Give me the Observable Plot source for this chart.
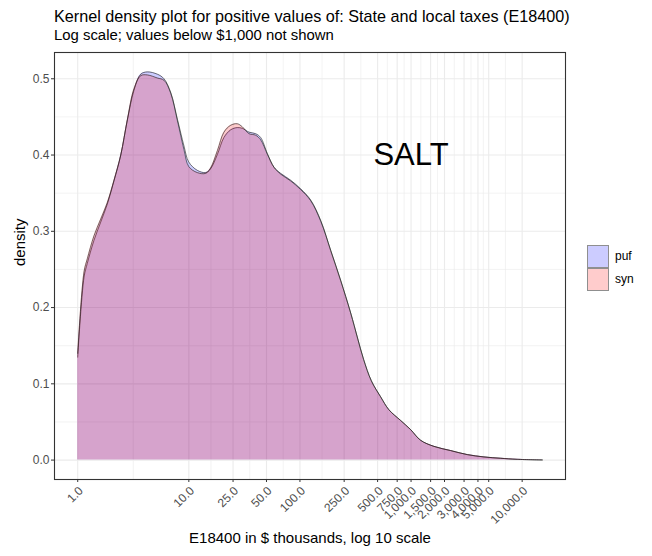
<!DOCTYPE html>
<html>
<head>
<meta charset="utf-8">
<script src="https://cdn.jsdelivr.net/npm/d3@7"></script>
<script src="https://cdn.jsdelivr.net/npm/@observablehq/plot@0.6"></script>
<style>
  body { margin: 0; background: #fff; font-family: "Liberation Sans", Arial, sans-serif; }
  #wrap { position: relative; width: 652px; height: 556px; overflow: hidden; }
  #head { position: relative; height: 44px; }
  #title { position: absolute; left: 54px; top: 7.5px; font-size: 16.2px; line-height: 1; color: #000; white-space: nowrap; }
  #subtitle { position: absolute; left: 54px; top: 27.5px; font-size: 14.9px; line-height: 1; color: #000; white-space: nowrap; }
  #legend { position: absolute; left: 587px; top: 244.5px; font-size: 12px; color: #000; }
  .key { display: flex; align-items: center; height: 23px; }
  .swatch { width: 22px; height: 23px; box-sizing: border-box; border: 1px solid #8f8f8f; margin-right: 6px; }
</style>
</head>
<body>
<div id="wrap">
  <div id="head">
    <div id="title">Kernel density plot for positive values of: State and local taxes (E18400)</div>
    <div id="subtitle">Log scale; values below $1,000 not shown</div>
  </div>
  <div id="chart"></div>
  <div id="legend"></div>
</div>
<script>
// Evaluation points of the kernel density, in $ thousands (log-spaced)
const amounts = [1.00, 1.14, 1.22, 1.40, 1.61, 1.85, 2.12, 2.44, 2.80, 3.21, 3.69, 4.24, 5.21, 5.98,
  6.87, 7.89, 9.04, 9.97, 11.9, 14.2, 15.7, 18.1, 20.7, 23.8, 27.3, 30.3, 34.8, 39.9, 44.3, 50.9,
  58.4, 67.0, 82.5, 101, 125, 154, 189, 232, 286, 330, 374, 439, 532, 632, 805, 991, 1219, 1606,
  2269, 3208, 4523, 6393, 9035, 15170];

// Density of log10(E18400) in the public use file
const pufDensity = [0.135, 0.240, 0.258, 0.288, 0.312, 0.336, 0.366, 0.400, 0.446, 0.485, 0.506, 0.509, 0.506, 0.500,
  0.482, 0.447, 0.412, 0.391, 0.380, 0.377, 0.382, 0.401, 0.423, 0.433, 0.436, 0.435, 0.430, 0.428, 0.423, 0.402,
  0.384, 0.376, 0.367, 0.356, 0.341, 0.314, 0.275, 0.236, 0.193, 0.160, 0.132, 0.104, 0.083, 0.066, 0.052, 0.040, 0.026, 0.018,
  0.0125, 0.0072, 0.0042, 0.0024, 0.0010, 0.0002];

// Density of log10(E18400) in the synthetic file
const synDensity = [0.140, 0.247, 0.264, 0.294, 0.316, 0.338, 0.367, 0.400, 0.447, 0.487, 0.504, 0.505, 0.501, 0.498,
  0.481, 0.445, 0.407, 0.385, 0.377, 0.376, 0.383, 0.406, 0.430, 0.439, 0.441, 0.437, 0.428, 0.426, 0.420, 0.401,
  0.384, 0.375, 0.366, 0.355, 0.340, 0.313, 0.275, 0.236, 0.193, 0.160, 0.132, 0.104, 0.083, 0.066, 0.052, 0.040, 0.026, 0.018,
  0.0125, 0.0072, 0.0041, 0.0024, 0.0010, 0.0002];

const fileNames = ["puf", "syn"];
const fileColors = ["blue", "red"];
const fillAlpha = 0.2;

const xBreaks = [1, 10, 25, 50, 100, 250, 500, 750, 1000, 1500, 2000, 3000, 4000, 5000, 10000];
const yBreaks = [0, 0.1, 0.2, 0.3, 0.4, 0.5];

const annotationText = "SALT";
const annotationAt = {amount: 1000, density: 0.4};

// One series of rows per file
const series = fileNames.map((name, k) => ({
  name,
  color: fileColors[k],
  rows: amounts.map((a, i) => ({amount: a, density: (k === 0 ? pufDensity : synDensity)[i]}))
}));

// Scale limits expanded by 5% of the data range (log space for x)
const lx0 = Math.log10(d3.min(amounts)), lx1 = Math.log10(d3.max(amounts));
const xPad = 0.05 * (lx1 - lx0);
const xDomain = [Math.pow(10, lx0 - xPad), Math.pow(10, lx1 + xPad)];
const yMax = d3.max([...pufDensity, ...synDensity]);
const yDomain = [-0.05 * yMax, yMax * 1.05];

// Minor grid lines halfway between major breaks (log space for x)
const lb = xBreaks.map(Math.log10);
const xMinor = d3.range(lb.length - 1).map(i => Math.pow(10, (lb[i] + lb[i + 1]) / 2));
const beyond = Math.pow(10, lb[lb.length - 1] + (lb[1] - lb[0]) / 2);
if (beyond < xDomain[1]) xMinor.push(beyond);
const yMinor = d3.range(yBreaks.length - 1).map(i => (yBreaks[i] + yBreaks[i + 1]) / 2);

const fmtX = d3.format(",.1f");
const fmtY = d3.format(".1f");
const tickInk = "#333333";
const labelInk = "#4d4d4d";

const marks = [
  Plot.gridY(yMinor, {stroke: "#ebebeb", strokeOpacity: 1, strokeWidth: 0.6}),
  Plot.gridX(xMinor, {stroke: "#ebebeb", strokeOpacity: 1, strokeWidth: 0.6}),
  Plot.gridY(yBreaks, {stroke: "#ebebeb", strokeOpacity: 1, strokeWidth: 1.1}),
  Plot.gridX(xBreaks, {stroke: "#ebebeb", strokeOpacity: 1, strokeWidth: 1.1})
];
for (const s of series) {
  marks.push(Plot.areaY(s.rows, {x: "amount", y: "density", fill: s.color, fillOpacity: fillAlpha, curve: "catmull-rom"}));
  marks.push(Plot.lineY(s.rows, {x: "amount", y: "density", stroke: "#1a1a1a", strokeWidth: 0.6, curve: "catmull-rom"}));
}
marks.push(
  Plot.text([annotationAt], {x: "amount", y: "density", text: () => annotationText, fontSize: 31, fill: "black"}),
  Plot.frame({stroke: tickInk, strokeWidth: 1.1}),
  // y axis: ticks and labels
  Plot.axisY(yBreaks, {tickFormat: fmtY, tickSize: 3, tickPadding: 2, fontSize: 12, color: labelInk, stroke: tickInk, label: null}),
  // x axis: short ticks below the panel, then rotated labels
  Plot.ruleX(xBreaks, {x: d => d, y1: yDomain[0], y2: yDomain[0], insetBottom: -3, stroke: tickInk, strokeWidth: 1}),
  Plot.text(xBreaks, {x: d => d, frameAnchor: "bottom", dy: 6, text: d => fmtX(d), rotate: -45,
    textAnchor: "end", lineAnchor: "top", fontSize: 12, fill: labelInk}),
  Plot.text(["density"], {frameAnchor: "left", dx: -34, rotate: -90, fontSize: 15, fill: "black"}),
  Plot.text(["E18400 in $ thousands, log 10 scale"], {frameAnchor: "bottom", dy: 63, fontSize: 15, fill: "black"})
);

const chart = Plot.plot({
  width: 652,
  height: 512,
  marginLeft: 54,
  marginRight: 87,
  marginTop: 8,
  marginBottom: 77,
  x: {type: "log", domain: xDomain, axis: null},
  y: {domain: yDomain},
  style: {fontFamily: "'Liberation Sans', Arial, sans-serif", background: "white", overflow: "visible"},
  marks
});
document.getElementById("chart").append(chart);

// Fill legend keyed by file
const legend = document.getElementById("legend");
for (const s of series) {
  const row = document.createElement("div");
  row.className = "key";
  const sw = document.createElement("div");
  sw.className = "swatch";
  const c = d3.color(s.color);
  c.opacity = fillAlpha;
  sw.style.background = c.formatRgb();
  const lab = document.createElement("span");
  lab.textContent = s.name;
  row.append(sw, lab);
  legend.append(row);
}
</script>
</body>
</html>
